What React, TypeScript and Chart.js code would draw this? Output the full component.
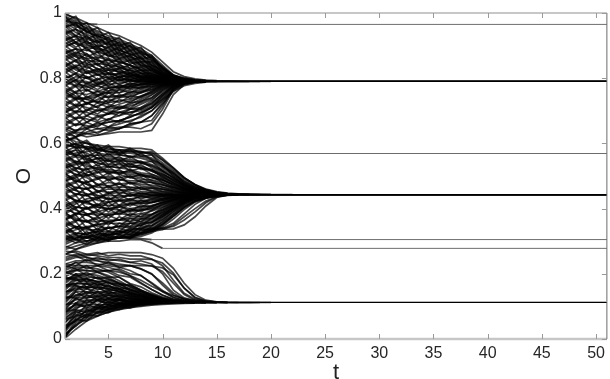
import React, { useEffect, useRef } from "react";
import { Chart, registerables } from "chart.js";

Chart.register(...registerables);

// Time axis
const T_START = 1;
const T_END = 51;
const X_TICKS = [5, 10, 15, 20, 25, 30, 35, 40, 45, 50];
const Y_TICKS = [0, 0.2, 0.4, 0.6, 0.8, 1];
const Y_TICK_LABELS = ["0", "0.2", "0.4", "0.6", "0.8", "1"];

// Opinion trajectories, in percent of O, for t = 1, 2, 3, ... (last value is held to t = 51)
const upperCluster: number[][] = [
  [100, 98, 96, 94.5, 93, 92, 90.5, 89, 87, 84, 81, 80, 79.5, 79.3, 79.0],
  [99, 97.5, 95, 93.5, 92.5, 91.5, 90, 88.5, 86.5, 83.5, 80.8, 79.8, 79.4, 79.2, 79.0],
  [98, 96.5, 94, 93, 91.5, 90, 89, 87.5, 85, 82.5, 80.5, 79.7, 79.3, 79.0],
  [97, 95, 93.5, 92, 91, 89.5, 88, 86.5, 84.5, 82, 80.3, 79.6, 79.2, 79.0],
  [96, 96.5, 94.5, 92.5, 90, 88.5, 87.5, 86, 84, 81.5, 80.2, 79.5, 79.2, 79.0],
  [95, 93, 92, 91, 90.5, 89, 87, 85, 83, 81, 80, 79.5, 79.2, 79.0],
  [94, 95, 93, 90.5, 89, 88, 86.5, 85.5, 83.5, 81.2, 80, 79.4, 79.0],
  [93, 91, 90, 89.5, 88, 87, 86, 84, 82.5, 80.8, 79.8, 79.3, 79.0],
  [92, 93, 91.5, 89, 87.5, 86, 85, 83.5, 82, 80.5, 79.7, 79.3, 79.0],
  [91, 89, 88.5, 88, 87, 85.5, 84, 83, 81.5, 80.3, 79.6, 79.2, 79.0],
  [90, 91, 89, 87, 86, 85, 84, 82.5, 81, 80.2, 79.5, 79.2, 79.0],
  [89, 87, 86, 86.5, 85.5, 84, 83, 82, 80.8, 80, 79.5, 79.2, 79.0],
  [88, 89, 87.5, 85.5, 84, 83.5, 82.5, 81.5, 80.5, 79.9, 79.4, 79.0],
  [87, 85, 84, 84.5, 84, 82.5, 81.5, 80.8, 80.2, 79.7, 79.3, 79.0],
  [86, 87.5, 86, 84, 82.5, 82, 81.5, 80.5, 80, 79.6, 79.3, 79.0],
  [85, 83, 82, 82.5, 83, 82, 81, 80.5, 79.8, 79.5, 79.2, 79.0],
  [84, 85.5, 84.5, 83, 81.5, 80.5, 80.8, 80.2, 79.7, 79.4, 79.2, 79.0],
  [83, 81, 80, 81, 81.5, 81, 80.2, 79.6, 79.3, 79.0],
  [82, 83.5, 82.5, 81, 80, 79.5, 79.8, 79.6, 79.4, 79.2, 79.0],
  [81, 79, 78.5, 79.5, 80.5, 80, 79.5, 79.0],
  [80, 81.5, 80.5, 79, 78, 78.5, 79, 79.2, 79.0],
  [79, 77.5, 77, 78, 79, 79.5, 79.3, 79.0],
  [78, 79.5, 79, 77.5, 77, 77.5, 78.2, 78.7, 78.9, 79.0],
  [77, 75.5, 75, 76, 77, 77.5, 77.8, 78.3, 78.7, 78.9, 79.0],
  [76, 78, 77.5, 76, 75.5, 76.5, 77, 77.5, 78.2, 78.7, 78.9, 79.0],
  [75, 73.5, 74, 75, 75.5, 75.5, 76.5, 77.2, 78, 78.6, 78.9, 79.0],
  [74, 76, 76.5, 75, 74, 74.5, 75.5, 76.5, 77.5, 78.4, 78.8, 79.0],
  [73, 71.5, 72, 73.5, 74.5, 74.5, 75, 76, 77, 78.2, 78.7, 78.9, 79.0],
  [72, 74, 73.5, 72.5, 73, 74, 74.5, 75.5, 76.5, 78, 78.6, 78.9, 79.0],
  [71, 69.5, 70, 71.5, 72.5, 73, 73.5, 74.5, 76, 77.8, 78.6, 78.9, 79.0],
  [70, 72, 71, 70, 71, 72, 73, 74, 75.5, 77.5, 78.5, 78.9, 79.0],
  [69, 67.5, 68.5, 70, 70.5, 71, 72, 73.5, 75, 77, 78.4, 78.9, 79.0],
  [68, 70, 69.5, 68.5, 69, 70.5, 71.5, 72.5, 74, 76.5, 78.2, 78.8, 79.0],
  [67, 65.5, 66.5, 68, 69, 69.5, 70.5, 72, 73.5, 76, 78, 78.8, 78.95, 79.0],
  [66, 68, 67.5, 66.5, 67.5, 68.5, 69.5, 70.5, 72.5, 75, 77.5, 78.7, 78.9, 79.0],
  [65, 64, 65, 66, 66.5, 67, 68, 69.5, 71, 74, 77, 78.5, 78.9, 79.0],
  [64, 66, 65.5, 64.5, 65, 66, 67, 68, 70, 73, 76.5, 78.4, 78.9, 79.0],
  [63, 62, 63.5, 64.5, 64, 64.5, 65.5, 66.5, 68.5, 72, 76, 78.2, 78.8, 79.0],
  [62, 63.5, 63, 62.5, 63, 63.5, 63.5, 63.5, 64, 69, 75, 78, 78.8, 79.0],
  [61, 62, 63, 63.5, 64.5, 65, 65, 64.5, 66, 70.5, 76.5, 78.5, 78.9, 79.0],
  [64.5, 63, 62, 62.5, 63.5, 64.5, 66, 66.5, 67, 71.5, 77, 78.7, 79.0],
  [75.5, 74, 72.5, 71, 70, 69.5, 69.5, 70, 71.5, 74.5, 77.5, 78.7, 79.0],
  [69.5, 71, 72.5, 73, 72, 71, 70.5, 70.5, 72, 75, 77.8, 78.8, 79.0],
  [98.5, 97, 95.5, 94, 92, 90.5, 89.5, 88, 86, 83, 80.6, 79.7, 79.2, 79.0],
  [96.5, 94, 92.5, 91.5, 90.5, 90, 88.5, 87, 85.5, 82.8, 80.4, 79.6, 79.2, 79.0],
  [94.5, 92.5, 91, 90, 89.5, 88.5, 87.5, 86, 84, 81.8, 80.1, 79.5, 79.2, 79.0],
  [92.5, 90.5, 89.5, 89, 88.5, 87.5, 86.5, 84.5, 83, 81, 79.9, 79.3, 79.0],
  [90.5, 92, 90.5, 88.5, 87, 86.5, 85.5, 84, 82.5, 80.6, 79.7, 79.3, 79.0],
  [88.5, 86.5, 85.5, 85, 85.5, 85, 84, 82.5, 81.2, 80.3, 79.6, 79.2, 79.0],
  [86.5, 88, 87, 85.5, 84.5, 83.5, 82, 81, 80.3, 79.8, 79.4, 79.0],
  [84.5, 82.5, 81.5, 82, 82.5, 83, 82.5, 81.5, 80.5, 79.9, 79.4, 79.2, 79.0],
  [82.5, 84, 83.5, 82, 81, 81.5, 81, 80.5, 80, 79.6, 79.3, 79.0],
  [80.5, 78.5, 77.5, 78.5, 79.5, 80.5, 80.5, 80, 79.6, 79.3, 79.1, 79.0],
  [78.5, 80.5, 80, 78.5, 77.5, 77, 77.5, 78.2, 78.7, 78.9, 79.0],
  [76.5, 74.5, 73.5, 74.5, 76, 77, 77.5, 78, 78.5, 78.9, 79.0],
  [99.5, 98.5, 97, 95.5, 94, 93, 91.5, 90, 88, 85, 82, 80.5, 79.8, 79.45, 79.25, 79.15, 79.08, 79.04, 79.02, 79.0],
  [62.5, 64, 64.5, 65.5, 66.5, 67, 68, 69.5, 71, 73.5, 76, 77.7, 78.4, 78.75, 78.88, 78.94, 78.97, 78.99, 79.0],
  [97.5, 96, 94.5, 93, 91.8, 91, 89.8, 88.3, 86.2, 83.2, 81, 80, 79.5, 79.25, 79.12, 79.05, 79.02, 79.0],
  [99, 95.5, 97, 92.5, 94, 90, 91, 87.5, 87, 83, 81, 79.6, 79.2, 79.0],
  [97.5, 99, 94, 95.5, 91, 92.5, 88.5, 89.5, 85.5, 83.5, 80.5, 79.5, 79.1, 79.0],
  [96, 93, 95.5, 91, 92.5, 88.5, 90, 86, 86.5, 82, 80.5, 79.4, 79.0],
  [95.5, 97, 92, 93.5, 89.5, 91, 87, 88, 84, 82.5, 80, 79.3, 79.0],
  [94, 91, 93, 89.5, 91, 87, 88.5, 85, 85, 81.5, 80, 79.3, 79.0],
  [93.5, 95, 90.5, 91.5, 88, 89.5, 85.5, 86.5, 83, 81.5, 79.8, 79.2, 79.0],
  [92, 89.5, 91.5, 88, 89.5, 86, 87, 84, 83.5, 81, 79.7, 79.2, 79.0],
  [91.5, 93, 88.5, 90, 86.5, 88, 84.5, 85, 82, 80.8, 79.6, 79.1, 79.0],
  [90, 87.5, 89.5, 86, 88, 84.5, 85.5, 82.5, 82.5, 80.5, 79.5, 79.1, 79.0],
  [89.5, 91, 86.5, 88, 84.5, 86, 83, 83.5, 81.3, 80.3, 79.4, 79.0],
  [88, 85.5, 87.5, 84, 86, 83, 84, 81.5, 81.5, 80, 79.3, 79.0],
  [87.5, 89, 84.5, 86, 83, 84.5, 81.5, 82.5, 80.5, 79.9, 79.2, 79.0],
  [86, 83.5, 85.5, 82.5, 84, 81.5, 82.5, 80.5, 80.8, 79.7, 79.2, 79.0],
  [85.5, 87, 83, 84.5, 81.5, 83, 80.5, 81.5, 80, 79.5, 79.1, 79.0],
  [84, 81.5, 84, 81, 82.5, 80, 81.5, 79.8, 80.2, 79.4, 79.0],
  [83.5, 85.5, 81.5, 83, 80, 81.5, 79.5, 80.5, 79.6, 79.3, 79.0],
  [82, 79.5, 82, 79.5, 81.5, 79, 80.5, 79.2, 79.6, 79.1, 79.0],
  [81.5, 83.5, 80, 81.5, 78.5, 80.5, 78.8, 79.8, 79.2, 79.0],
  [80, 77.5, 80.5, 78, 80, 78, 79.5, 78.6, 79.2, 79.0],
  [79.5, 81.5, 78, 80, 77.5, 79.5, 78, 79.3, 78.8, 79.0],
  [78, 75.5, 78.5, 76.5, 78.5, 77, 78.5, 77.8, 78.7, 78.9, 79.0],
  [77.5, 79.5, 76, 78, 76, 78, 76.8, 78.2, 78.2, 78.8, 79.0],
  [76, 73.5, 76.5, 74.5, 77, 75.5, 77.5, 76.8, 78, 78.6, 78.9, 79.0],
  [75.5, 77.5, 74, 76, 74, 76.5, 75.5, 77.2, 77.5, 78.5, 78.9, 79.0],
  [74, 71.5, 74.5, 72.5, 75.5, 74, 76, 75.5, 77.2, 78.2, 78.8, 79.0],
  [73.5, 75.5, 72, 74.5, 72.5, 75, 73.8, 75.8, 76.5, 78, 78.7, 79.0],
  [72, 69.5, 72.5, 71, 73.5, 72.5, 74.5, 74.2, 76, 77.8, 78.6, 78.9, 79.0],
  [71.5, 73.5, 70, 72.5, 71, 73.5, 72.5, 74.5, 75.5, 77.5, 78.5, 78.9, 79.0],
  [70, 67.5, 70.5, 69, 71.5, 70.5, 72.5, 72.8, 74.8, 77.2, 78.4, 78.8, 79.0],
  [69.5, 71.5, 68.5, 70.5, 69, 71.5, 70.8, 73, 74, 76.8, 78.3, 78.8, 79.0],
  [68, 65.5, 68.5, 67, 69.5, 68.5, 70.5, 71, 73, 76.3, 78.1, 78.7, 79.0],
  [67.5, 69.5, 66.5, 68.5, 67, 69.5, 68.8, 71, 72.2, 75.5, 77.8, 78.6, 78.9, 79.0],
  [66, 63.5, 66.5, 65, 67.5, 66.5, 68.5, 69, 71, 74.5, 77.5, 78.5, 78.9, 79.0],
  [65.5, 67.5, 64.5, 66.5, 65, 67, 66.5, 68.5, 70, 73.5, 77, 78.4, 78.9, 79.0],
  [64, 62, 64.5, 63, 65, 64.5, 66, 66.5, 68.5, 72.5, 76.5, 78.2, 78.8, 79.0],
];

const middleCluster: number[][] = [
  [62, 60.5, 60, 59.5, 59, 59, 58.5, 58.5, 58, 55.5, 52.5, 49.5, 47.3, 45.8, 45, 44.6, 44.45, 44.35, 44.3],
  [61, 61.5, 60, 59, 58.5, 58, 58, 57.5, 56.5, 54, 51.5, 49, 47, 45.6, 44.9, 44.5, 44.4, 44.3],
  [60, 58.5, 59, 58.5, 57.5, 57, 57, 56.5, 55.5, 53.5, 51, 48.5, 46.6, 45.4, 44.8, 44.45, 44.35, 44.3],
  [59, 60, 58.5, 57, 56.5, 56.5, 56, 55.5, 54.5, 52.5, 50.5, 48, 46.3, 45.2, 44.6, 44.4, 44.3],
  [58, 56.5, 56, 56.5, 56, 55.5, 55, 54.5, 53.5, 52, 50, 47.6, 46.1, 45.1, 44.55, 44.4, 44.3],
  [57, 58, 57, 55.5, 54.5, 54.5, 54.5, 54, 53, 51.5, 49.5, 47.3, 45.9, 45, 44.5, 44.35, 44.3],
  [56, 54.5, 54, 54.5, 55, 54, 53.5, 53, 52, 50.5, 49, 47, 45.7, 44.9, 44.5, 44.35, 44.3],
  [55, 56.5, 55.5, 54, 53, 52.5, 53, 52.5, 51.5, 50, 48.5, 46.8, 45.5, 44.8, 44.45, 44.3],
  [54, 52.5, 52, 52.5, 53, 52.5, 52, 51, 50.5, 49.5, 48, 46.5, 45.4, 44.8, 44.4, 44.3],
  [53, 54.5, 53.5, 52, 51, 51, 51.5, 50.5, 49.5, 48.8, 47.3, 46.1, 45.2, 44.7, 44.4, 44.3],
  [52, 50.5, 50, 51, 51.5, 50.5, 49.5, 49, 48.8, 48, 46.8, 45.8, 45, 44.6, 44.35, 44.3],
  [51, 52.5, 51.5, 50, 49, 49.5, 50, 49.5, 48, 47.2, 46.4, 45.6, 44.9, 44.5, 44.3],
  [50, 48.5, 48, 49, 50, 49, 48, 47.5, 47.2, 46.6, 46, 45.3, 44.8, 44.45, 44.3],
  [49, 50.5, 49.5, 47.5, 47, 47.5, 48, 47, 46.5, 46, 45.5, 45, 44.6, 44.4, 44.3],
  [48, 46.5, 46, 47, 48, 47.5, 46.5, 46, 45.6, 45.3, 45, 44.7, 44.4, 44.3],
  [47, 48.5, 47.5, 45.5, 45, 45.5, 46, 45.3, 45, 44.7, 44.5, 44.4, 44.3],
  [46, 44.5, 44, 45, 46, 46, 45, 44.5, 44.2, 44.2, 44.25, 44.3],
  [45, 46.5, 46, 44, 43, 43.5, 44, 44.5, 44.6, 44.4, 44.3],
  [44, 42.5, 42, 43, 44.5, 45, 44.5, 43.8, 43.7, 43.9, 44.1, 44.25, 44.3],
  [43, 44.5, 44, 42.5, 42, 42.5, 43, 43.5, 43.4, 43.6, 43.9, 44.15, 44.25, 44.3],
  [42, 40.5, 40, 41, 42, 42.5, 42, 42, 42.4, 43, 43.5, 44, 44.2, 44.3],
  [41, 42.5, 42, 40.5, 40, 40.5, 41.5, 41.5, 41.8, 42.4, 43.2, 43.8, 44.1, 44.25, 44.3],
  [40, 38.5, 38, 39, 40, 40.5, 40, 40.5, 41, 41.9, 42.8, 43.5, 44, 44.2, 44.3],
  [39, 40.5, 40, 38.5, 38, 38.5, 39.5, 39.5, 40, 41.1, 42.3, 43.2, 43.9, 44.2, 44.3],
  [38, 36.5, 36, 37, 38, 38.5, 38, 38.5, 39.2, 40.4, 41.8, 42.9, 43.7, 44.1, 44.25, 44.3],
  [37, 38.5, 38, 36.5, 36, 36.5, 37.5, 37.5, 38.2, 39.7, 41.3, 42.6, 43.5, 44, 44.2, 44.3],
  [36, 34.5, 34, 35, 36, 36.5, 36, 36.8, 37.5, 38.9, 40.8, 42.3, 43.3, 43.9, 44.15, 44.3],
  [35, 36.5, 36, 34.5, 34, 34.5, 35.5, 35.5, 36.5, 38.1, 40.1, 41.9, 43.1, 43.8, 44.1, 44.25, 44.3],
  [34, 32.5, 32, 33, 34, 34.5, 34, 34.8, 35.8, 37.4, 39.6, 41.5, 42.9, 43.6, 44.05, 44.25, 44.3],
  [33, 34.5, 34, 32.5, 32, 32.5, 33.5, 33.8, 34.8, 36.7, 39, 41.1, 42.7, 43.5, 44, 44.2, 44.3],
  [32, 30.5, 31, 32, 32.5, 33, 32.5, 33, 34, 35.9, 38.3, 40.7, 42.5, 43.4, 43.95, 44.2, 44.3],
  [31, 32.5, 32, 31, 31, 31.5, 32, 32.5, 33.5, 35.1, 37.6, 40.2, 42.2, 43.3, 43.9, 44.2, 44.3],
  [30, 31, 31.5, 32, 31.5, 31, 31, 31.5, 32.5, 34.4, 36.8, 39.7, 42, 43.2, 43.85, 44.15, 44.3],
  [31.5, 30.5, 30, 31, 32, 32.5, 33, 33.5, 33.7, 33.7, 33.8, 35, 37.5, 40.8, 43.4, 44.1, 44.3],
  [29.5, 31, 32.5, 33, 33, 33, 33.5, 34, 34, 34, 34.5, 36.5, 39, 41.8, 43.6, 44.2, 44.3],
  [33.5, 32, 31, 30.5, 30.5, 31, 31.5, 32, 33, 33.5, 35, 37.5, 40, 42.3, 43.7, 44.2, 44.3],
  [57.5, 56, 55, 54, 53.5, 53.5, 53, 52.5, 51.8, 50.5, 48.8, 47.1, 45.8, 44.9, 44.45, 44.3],
  [55.5, 54, 53, 52.5, 51.5, 51, 50.5, 50, 49.5, 48.5, 47.4, 46.2, 45.3, 44.7, 44.4, 44.3],
  [53.5, 51.5, 50.5, 49.5, 49.5, 49, 48.5, 48.5, 48, 47.3, 46.5, 45.7, 45, 44.5, 44.3],
  [50.5, 49, 47.5, 46.5, 46.5, 46.5, 46.5, 46.5, 46.2, 45.8, 45.3, 44.9, 44.6, 44.4, 44.3],
  [47.5, 45.5, 44.5, 44, 44, 44, 44, 44, 44.1, 44.2, 44.25, 44.3],
  [44.5, 42.5, 41.5, 41, 41, 41, 41.5, 41.5, 42, 42.7, 43.4, 43.9, 44.2, 44.3],
  [41.5, 39.5, 38.5, 38, 38.5, 39, 39, 39.5, 40.2, 41.4, 42.6, 43.5, 44, 44.2, 44.3],
  [38.5, 37, 36, 36, 36.5, 36.5, 37, 37, 38, 39.4, 41, 42.5, 43.5, 44, 44.25, 44.3],
  [35.5, 34, 33.5, 33.5, 34, 34.5, 34.5, 35, 36, 37.7, 39.8, 41.7, 43.1, 43.9, 44.2, 44.3],
  [32.5, 33.5, 34.5, 35, 35.5, 35.5, 35.5, 36, 37, 38.4, 40.3, 42.1, 43.3, 44, 44.2, 44.3],
  [52.5, 53.5, 54.5, 55.5, 55.5, 55, 54.5, 54, 53.2, 51.5, 49.3, 47.4, 46, 45, 44.55, 44.35, 44.3],
  [48.5, 49.5, 51, 52, 52, 51.5, 51, 50.5, 50, 48.9, 47.6, 46.3, 45.3, 44.7, 44.4, 44.3],
  [39.5, 41.5, 43, 43.5, 43, 42.5, 42.5, 42.5, 42.7, 43.1, 43.6, 44, 44.2, 44.3],
  [36.5, 38.5, 40, 40.5, 40, 39.5, 39.5, 40, 40.7, 41.8, 42.8, 43.6, 44.1, 44.25, 44.3],
  [59.5, 59, 58.5, 58, 57.5, 57.5, 57.5, 57.5, 57, 54.8, 52, 49.4, 47.4, 46, 45.2, 44.75, 44.52, 44.41, 44.35, 44.32, 44.31, 44.3],
  [30.5, 31.5, 31, 31.5, 32, 32, 32, 32.5, 33.5, 35.4, 37.8, 40.5, 42.3, 43.3, 43.8, 44.05, 44.18, 44.25, 44.28, 44.3],
  [56.5, 57, 57.5, 58, 57.5, 56.5, 56, 56, 55, 53, 50.7, 48.4, 46.7, 45.5, 44.9, 44.6, 44.45, 44.37, 44.33, 44.3],
  [27.5, 28.5, 29.5, 30, 30.5, 31, 31.5, 32, 33, 34.9, 37.6, 40.4, 42.4, 43.5, 44, 44.2, 44.3],
  [28.5, 27.5, 28.5, 29.5, 30.5, 31, 31.5, 32.5, 33.5, 34, 35.5, 38.4, 41.3, 43.2, 44, 44.25, 44.3],
  [61.5, 58.5, 60.5, 57, 59, 56.5, 58, 56, 56.5, 53, 51, 48, 46.5, 45.3, 44.7, 44.4, 44.3],
  [60.5, 62, 58, 59.5, 56.5, 58, 55.5, 57, 55, 53.5, 50, 47.8, 46, 45.1, 44.6, 44.3],
  [59, 56, 58.5, 55, 57, 54.5, 56, 54, 54.5, 51.5, 49.5, 47.2, 45.8, 45, 44.5, 44.3],
  [58.5, 60, 56, 57.5, 54.5, 56, 53.5, 54.5, 52.5, 51, 48.5, 46.8, 45.5, 44.8, 44.4, 44.3],
  [57, 54, 56.5, 53, 55, 52.5, 54, 52, 52, 49.5, 48, 46.3, 45.2, 44.7, 44.3],
  [56.5, 58, 54, 55.5, 52.5, 54, 51.5, 52.5, 50.5, 49, 47, 45.9, 45, 44.6, 44.3],
  [55, 52, 54.5, 51, 53, 50.5, 52, 50, 50, 48, 46.6, 45.5, 44.8, 44.4, 44.3],
  [54.5, 56, 52, 53.5, 50.5, 52, 49.5, 50.5, 48.5, 47.5, 46, 45.2, 44.6, 44.3],
  [53, 50, 52.5, 49, 51, 48.5, 50, 48, 48, 46.5, 45.6, 44.9, 44.5, 44.3],
  [52.5, 54, 50, 51.5, 48.5, 50, 47.5, 48.5, 46.8, 46, 45.2, 44.7, 44.4, 44.3],
  [51, 48, 50.5, 47, 49, 46.5, 48, 46, 46.3, 45.2, 44.8, 44.5, 44.3],
  [50.5, 52, 48, 49.5, 46.5, 48, 45.5, 46.5, 45.2, 44.9, 44.5, 44.3],
  [49, 46, 48.5, 45, 47, 44.5, 46, 44.5, 45, 44.4, 44.3],
  [48.5, 50, 46, 47.5, 44.5, 46, 43.8, 45, 44, 44.4, 44.3],
  [47, 44, 46.5, 43, 45, 42.8, 44.5, 43, 44, 43.8, 44.2, 44.3],
  [46.5, 48, 44, 45.5, 42.5, 44.5, 42.5, 44, 43, 43.8, 44.1, 44.3],
  [45, 42, 44.5, 41, 43.5, 41, 43, 41.8, 43, 43.3, 43.9, 44.2, 44.3],
  [44.5, 46, 42, 43.5, 40.5, 42.5, 40.8, 42.5, 41.8, 43, 43.7, 44.1, 44.3],
  [43, 40, 42.5, 39.5, 42, 39.5, 41.5, 40.5, 42, 42.6, 43.5, 44, 44.3],
  [42.5, 44, 40, 41.5, 39, 41, 39.2, 41, 40.5, 42.2, 43.3, 43.9, 44.2, 44.3],
  [41, 38, 40.5, 37.5, 40, 38, 40, 39, 40.8, 41.8, 43, 43.8, 44.2, 44.3],
  [40.5, 42, 38, 39.5, 37, 39.5, 37.8, 39.8, 39.5, 41.3, 42.8, 43.7, 44.1, 44.3],
  [39, 36, 38.5, 35.5, 38, 36.5, 38.5, 37.5, 39.5, 40.8, 42.5, 43.5, 44.1, 44.3],
  [38.5, 40, 36, 37.5, 35, 37.5, 36, 38.3, 38.2, 40.3, 42.2, 43.4, 44, 44.3],
  [37, 34, 36.5, 33.5, 36, 34.5, 37, 36, 38.2, 39.8, 41.9, 43.2, 43.9, 44.2, 44.3],
  [36.5, 38, 34, 35.5, 33, 35.5, 34.5, 36.8, 37, 39.3, 41.6, 43.1, 43.9, 44.2, 44.3],
  [35, 32, 34.5, 32, 34.5, 33, 35.5, 34.8, 37, 38.8, 41.2, 42.9, 43.8, 44.2, 44.3],
  [34.5, 36, 32, 34, 31.5, 34, 33, 35.5, 35.8, 38.2, 40.8, 42.7, 43.7, 44.1, 44.3],
  [33, 30.5, 33, 31, 33, 32, 34, 33.8, 35.5, 37.7, 40.4, 42.5, 43.6, 44.1, 44.3],
  [32.5, 34.5, 31, 33, 31, 33, 32, 34.5, 34.8, 37.2, 40, 42.3, 43.5, 44, 44.3],
  [31, 29.5, 31.5, 30, 32, 31, 33, 32.5, 34.5, 36.5, 39.5, 42, 43.4, 44, 44.3],
  [30.5, 32, 30, 31.5, 30, 32, 31, 33.5, 33.5, 36, 39, 41.7, 43.3, 44, 44.3],
  [29, 30.5, 29, 31, 30.5, 31.5, 30.8, 32.5, 33, 35.2, 38.3, 41.3, 43.1, 43.9, 44.2, 44.3],
  [62.5, 59.5, 61, 58, 59.5, 57, 58.5, 57, 57.5, 55, 52.5, 49.5, 47.3, 45.8, 45, 44.6, 44.4, 44.3],
  [57.5, 59, 55, 56.5, 53.5, 55, 52.5, 53.5, 51.5, 50, 47.8, 46.3, 45.3, 44.7, 44.4, 44.3],
];

const lowerCluster: number[][] = [
  [0.5, 5, 7, 8, 9, 9.8, 10.3, 10.7, 10.95, 11.1, 11.15, 11.2],
  [1.5, 4, 6.5, 7.8, 8.8, 9.6, 10.1, 10.5, 10.85, 11.05, 11.15, 11.2],
  [3, 6, 7.5, 8.5, 9.2, 9.9, 10.4, 10.7, 10.95, 11.1, 11.2],
  [4, 7, 8.5, 9, 9.6, 10.2, 10.6, 10.85, 11.05, 11.15, 11.2],
  [5, 8, 9, 9.8, 10.2, 10.5, 10.8, 11, 11.1, 11.2],
  [6, 9.5, 10.5, 10.5, 10.6, 10.8, 10.95, 11.1, 11.15, 11.2],
  [7, 10, 11, 11.5, 11.2, 11.1, 11.1, 11.15, 11.2],
  [8, 11, 12, 12, 11.8, 11.6, 11.4, 11.3, 11.2],
  [9, 12.5, 13, 12.5, 12.2, 11.9, 11.6, 11.4, 11.25, 11.2],
  [10, 13.5, 13.5, 13, 12.7, 12.3, 11.9, 11.6, 11.4, 11.25, 11.2],
  [11, 14.5, 14.5, 14, 13.5, 12.9, 12.4, 11.9, 11.6, 11.35, 11.25, 11.2],
  [12, 15, 15.5, 14.5, 14, 13.4, 12.8, 12.2, 11.8, 11.45, 11.3, 11.2],
  [13, 16, 16, 15.5, 14.5, 13.9, 13.2, 12.5, 12, 11.55, 11.35, 11.25, 11.2],
  [14, 17, 17, 16, 15.5, 14.4, 13.6, 12.8, 12.2, 11.65, 11.4, 11.25, 11.2],
  [15, 18, 17.5, 17, 16, 15.1, 14, 13.1, 12.4, 11.8, 11.45, 11.3, 11.2],
  [16, 19, 18.5, 17.5, 16.5, 15.4, 14.4, 13.4, 12.6, 11.9, 11.5, 11.3, 11.2],
  [17, 19.5, 19.5, 18.5, 17.5, 16.1, 14.8, 13.7, 12.8, 12, 11.55, 11.32, 11.22, 11.2],
  [18, 20, 20, 19.5, 18.5, 16.9, 15.3, 14, 13, 12.1, 11.6, 11.35, 11.23, 11.2],
  [19, 21, 21, 20.5, 19.5, 17.9, 16, 14.5, 13.3, 12.3, 11.7, 11.4, 11.25, 11.2],
  [20, 22, 22, 21.5, 20.5, 18.9, 16.8, 15, 13.6, 12.5, 11.8, 11.45, 11.27, 11.2],
  [21, 22.5, 22.5, 22.5, 22, 21, 19.4, 17.3, 15.2, 13.4, 12.2, 11.6, 11.35, 11.25, 11.2],
  [22, 23.5, 23.5, 23, 22.5, 22, 21, 19.4, 17.3, 14.9, 12.8, 11.8, 11.4, 11.25, 11.2],
  [23, 24, 24, 24, 23.5, 23, 22.5, 21.5, 19.9, 17.2, 14.1, 12.2, 11.5, 11.3, 11.2],
  [24, 25, 25, 24.5, 24.5, 24, 23.5, 23, 22.4, 20.7, 17.1, 13.6, 11.9, 11.4, 11.25, 11.2],
  [25, 26, 26, 25.5, 25, 25, 24.5, 24.5, 24.4, 23.3, 20.2, 15.6, 12.6, 11.6, 11.3, 11.2],
  [26, 25.5, 25.5, 26, 26.5, 26.5, 26.5, 26.5, 25.9, 24.8, 21.7, 17.1, 13.6, 11.9, 11.4, 11.25, 11.2],
  [27, 26.5, 25, 24, 23, 22.5, 22.5, 22.5, 22.4, 21.8, 19.7, 15.6, 12.8, 11.6, 11.3, 11.2],
  [2, 6.5, 8.5, 9.5, 10, 10.3, 10.6, 10.85, 11.05, 11.15, 11.2],
  [6.5, 8.5, 9.5, 10.2, 10.7, 10.9, 11.05, 11.15, 11.2],
  [8.5, 10.5, 11.5, 12, 12.3, 12.1, 11.8, 11.5, 11.35, 11.25, 11.2],
  [10.5, 12, 12.5, 13.2, 13.3, 12.9, 12.4, 11.9, 11.55, 11.35, 11.25, 11.2],
  [12.5, 13.5, 14, 14.5, 14.5, 13.8, 13, 12.3, 11.8, 11.45, 11.3, 11.2],
  [14.5, 15.5, 16, 15.8, 15.3, 14.5, 13.6, 12.7, 12, 11.6, 11.35, 11.25, 11.2],
  [16.5, 17, 17, 16.8, 16.2, 15.3, 14.2, 13.2, 12.3, 11.75, 11.4, 11.25, 11.2],
  [18.5, 18.5, 18, 17.8, 17.2, 16.2, 15, 13.8, 12.7, 11.95, 11.5, 11.3, 11.2],
  [20.5, 19.5, 19, 18.8, 18.3, 17.3, 16, 14.6, 13.2, 12.2, 11.6, 11.35, 11.22, 11.2],
  [3.5, 5.5, 7.8, 9.2, 10, 10.5, 10.8, 11, 11.1, 11.15, 11.2],
  [0.2, 3, 5.5, 7, 8.3, 9.2, 9.8, 10.3, 10.6, 10.85, 11.05, 11.15, 11.2],
  [0.8, 4.5, 6, 7.2, 8.2, 9, 9.6, 10, 10.35, 10.6, 10.8, 10.93, 11.02, 11.08, 11.12, 11.15, 11.17, 11.18, 11.19, 11.2],
  [22.5, 21.5, 21, 21, 21, 20.5, 19.5, 18, 16.2, 14.6, 13.3, 12.4, 11.85, 11.53, 11.36, 11.27, 11.23, 11.21, 11.2],
  [0.5, 6, 5.5, 8.5, 8, 10, 9.5, 10.8, 10.6, 11.1, 11.2],
  [1.5, 4, 7.5, 7, 9.5, 9, 10.5, 10.2, 11, 11.1, 11.2],
  [2.5, 7.5, 6.5, 9.5, 8.5, 10.5, 10, 11, 10.9, 11.2],
  [4, 5.5, 9, 8, 10.5, 9.5, 11, 10.6, 11.2],
  [5, 9, 8, 10.5, 9.5, 11, 10.5, 11.3, 11.1, 11.2],
  [6, 7, 10.5, 9.5, 11.5, 10.5, 11.5, 11, 11.3, 11.2],
  [7.5, 11, 9.5, 12, 10.5, 12, 11, 11.6, 11.3, 11.2],
  [8.5, 9, 12, 10.5, 12.5, 11, 12, 11.3, 11.4, 11.2],
  [9.5, 12.5, 11, 13, 11.5, 12.5, 11.5, 11.8, 11.4, 11.3, 11.2],
  [10.5, 11, 13.5, 12, 13.5, 12, 12.5, 11.7, 11.6, 11.3, 11.2],
  [11.5, 14.5, 12.5, 14.5, 12.5, 13.5, 12.2, 12.3, 11.7, 11.4, 11.2],
  [12.5, 13, 15.5, 13.5, 15, 13, 13.5, 12.3, 12.2, 11.6, 11.3, 11.2],
  [13.5, 16.5, 14, 16, 14, 14.5, 13, 13, 12.2, 11.8, 11.4, 11.2],
  [14.5, 15, 17, 15, 16.5, 14.5, 14.5, 13.2, 12.6, 11.9, 11.5, 11.3, 11.2],
  [15.5, 18.5, 16, 17.5, 15.5, 15.5, 14, 13.5, 12.5, 12, 11.5, 11.3, 11.2],
  [16.5, 17, 18.5, 16.5, 17.5, 15.5, 15.5, 14, 13.2, 12.2, 11.6, 11.3, 11.2],
  [17.5, 20, 17.5, 19, 17, 17, 15, 14.5, 13.2, 12.3, 11.7, 11.4, 11.2],
  [18.5, 19, 20.5, 18.5, 19, 17, 16.5, 14.8, 13.8, 12.6, 11.8, 11.4, 11.2],
  [19.5, 21.5, 19.5, 20.5, 19, 19, 17, 16, 14.2, 12.9, 12, 11.5, 11.3, 11.2],
  [20.5, 21, 22.5, 20.5, 21, 19.5, 19, 17, 15.2, 13.5, 12.2, 11.6, 11.3, 11.2],
  [21.5, 23.5, 21.5, 22.5, 21, 21.5, 20, 19.5, 17, 14.5, 12.7, 11.8, 11.4, 11.2],
  [23, 22.5, 24.5, 22.5, 23.5, 22, 22.5, 21.5, 20, 16.5, 13.5, 12.1, 11.5, 11.3, 11.2],
  [24.5, 25.5, 24, 25, 24, 24.5, 23.5, 24, 23, 20, 15, 12.6, 11.7, 11.3, 11.2],
  [3, 8.5, 7, 10, 9, 10.8, 10.2, 11.2],
  [9, 10.5, 10, 12, 11, 12, 11.3, 11.5, 11.2],
  [13, 12.5, 14.5, 13, 14, 12.5, 12.8, 11.9, 11.6, 11.3, 11.2],
  [16, 16.5, 15.5, 16.5, 15, 15, 13.8, 13.2, 12.2, 11.7, 11.4, 11.2],
  [19, 18, 18.5, 17.5, 18, 16.5, 16.5, 15, 13.5, 12.4, 11.7, 11.4, 11.2],
  [26, 27, 26, 26.5, 25.5, 26, 25.5, 25.5, 24.5, 22.5, 18, 14, 12.2, 11.5, 11.3, 11.2],
];

// Agents that stay apart from the three clusters
const isolatedAgents: number[][] = [
  [97.5, 97, 96.7, 96.5],
  [60.5, 59.5, 59, 58.5, 58, 58, 57.5, 57.1, 56.9],
  [28, 29.5, 30, 30.5, 31, 31, 31, 30.8, 30.5],
  [26, 27.5, 29, 29.5, 30, 30, 30.5, 30.5, 29.5, 27.8],
];

const FONT = "'Liberation Sans', Arial, Helvetica, sans-serif";
const LINE_COLOR = "rgba(0,0,0,0.72)";
const MOVING_WIDTH = 1.7;
const HELD_WIDTH = 0.8;

function toPoints(vals: number[]) {
  const pts = vals.map((v, i) => ({ x: T_START + i, y: v / 100 }));
  pts.push({ x: T_END, y: vals[vals.length - 1] / 100 });
  return pts;
}

const framePlugin = {
  id: "matlabFrame",
  afterDatasetsDraw(chart: any) {
    const { ctx, chartArea: a, scales } = chart;
    const xs = scales.x;
    const ys = scales.y;
    const seg = (x1: number, y1: number, x2: number, y2: number) => {
      ctx.beginPath();
      ctx.moveTo(x1, y1);
      ctx.lineTo(x2, y2);
      ctx.stroke();
    };
    ctx.save();
    ctx.strokeStyle = "#c6c6c6";
    ctx.lineWidth = 2.5;
    seg(a.left, a.bottom, a.right, a.bottom);
    ctx.strokeStyle = "#b4b4b4";
    ctx.lineWidth = 1.5;
    seg(a.left, a.top, a.right, a.top);
    seg(a.left, a.top, a.left, a.bottom);
    ctx.strokeStyle = "#6a6a6a";
    ctx.lineWidth = 1;
    seg(a.right, a.top, a.right, a.bottom);
    ctx.strokeStyle = "#9a9a9a";
    ctx.lineWidth = 1;
    X_TICKS.forEach((v) => {
      const px = Math.round(xs.getPixelForValue(v)) + 0.5;
      seg(px, a.bottom, px, a.bottom - 5);
      seg(px, a.top, px, a.top + 5);
    });
    Y_TICKS.forEach((v) => {
      const py = Math.round(ys.getPixelForValue(v)) + 0.5;
      seg(a.right, py, a.right - 5, py);
      seg(a.left, py, a.left + 5, py);
    });
    ctx.restore();
  },
};

export default function App() {
  const ref = useRef<HTMLCanvasElement | null>(null);

  useEffect(() => {
    if (!ref.current) return;
    const groups = [upperCluster, middleCluster, lowerCluster, isolatedAgents];
    const datasets: any[] = [];
    groups.forEach((g) =>
      g.forEach((traj) => {
        const pts = toPoints(traj);
        const last = pts.length - 1;
        datasets.push({
          data: pts,
          borderColor: LINE_COLOR,
          borderWidth: MOVING_WIDTH,
          segment: {
            borderWidth: (c: any) => (c.p1DataIndex === last ? HELD_WIDTH : MOVING_WIDTH),
          },
          pointRadius: 0,
          tension: 0,
          fill: false,
        });
      })
    );

    const chart = new Chart(ref.current, {
      type: "line",
      data: { datasets },
      options: {
        animation: false,
        responsive: false,
        devicePixelRatio: 1,
        parsing: false as any,
        normalized: true,
        layout: { padding: { top: 13, right: 3, left: 0, bottom: 0 } },
        plugins: {
          legend: { display: false },
          tooltip: { enabled: false },
          title: { display: false },
        },
        scales: {
          x: {
            type: "linear",
            min: T_START,
            max: T_END,
            grid: { display: false, drawTicks: false },
            border: { display: false },
            afterBuildTicks: (s: any) => {
              s.ticks = X_TICKS.map((v) => ({ value: v }));
            },
            afterFit: (s: any) => {
              s.height = 40;
            },
            ticks: {
              color: "#262626",
              font: { family: FONT, size: 16 },
              padding: 5,
              maxRotation: 0,
              autoSkip: false,
              callback: (v: any) => String(v),
            },
            title: {
              display: true,
              text: "t",
              color: "#222",
              font: { family: FONT, size: 22, lineHeight: 1 },
              padding: { top: 0, bottom: -5 },
            },
          },
          y: {
            type: "linear",
            min: 0,
            max: 1,
            grid: { display: false, drawTicks: false },
            border: { display: false },
            afterBuildTicks: (s: any) => {
              s.ticks = Y_TICKS.map((v) => ({ value: v }));
            },
            afterFit: (s: any) => {
              s.width = 65;
            },
            ticks: {
              color: "#262626",
              font: { family: FONT, size: 16 },
              padding: 3,
              autoSkip: false,
              callback: (v: any) => {
                const i = Y_TICKS.findIndex((t) => Math.abs(t - v) < 1e-9);
                return i >= 0 ? Y_TICK_LABELS[i] : "";
              },
            },
            title: {
              display: true,
              text: "O",
              color: "#222",
              font: { family: FONT, size: 21, lineHeight: 1 },
              padding: { top: 13.5, bottom: 0 },
            },
          },
        },
      },
      plugins: [framePlugin],
    });
    return () => chart.destroy();
  }, []);

  return (
    <div style={{ position: "absolute", left: 0, top: 0, width: 610, height: 379, background: "#fff" }}>
      <canvas ref={ref} width={610} height={379} style={{ width: 610, height: 379, display: "block" }} />
    </div>
  );
}
